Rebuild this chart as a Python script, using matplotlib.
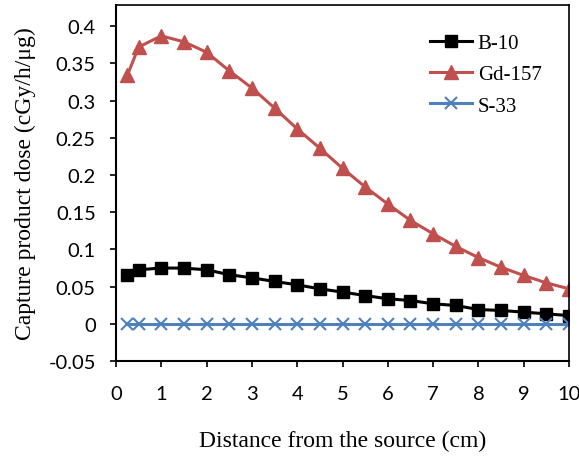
import matplotlib
matplotlib.use("Agg")
import matplotlib.pyplot as plt

x = [0.25, 0.5, 1, 1.5, 2, 2.5, 3, 3.5, 4, 4.5, 5, 5.5, 6, 6.5, 7, 7.5, 8, 8.5, 9, 9.5, 10]
b10 = [0.065, 0.0726, 0.075, 0.0748, 0.0726, 0.066, 0.0618, 0.0569, 0.0524, 0.047, 0.0426,
       0.038, 0.0336, 0.0313, 0.0269, 0.0246, 0.0192, 0.0179, 0.0157, 0.0134, 0.011]
gd157 = [0.334, 0.372, 0.387, 0.379, 0.365, 0.340, 0.317, 0.290, 0.262, 0.236, 0.209,
         0.184, 0.161, 0.139, 0.121, 0.104, 0.089, 0.076, 0.065, 0.055, 0.047]
s33 = [0.0] * len(x)
xticks = list(range(0, 11))
yticks = [-0.05, 0, 0.05, 0.1, 0.15, 0.2, 0.25, 0.3, 0.35, 0.4]
ytick_labels = ["-0.05", "0", "0.05", "0.1", "0.15", "0.2", "0.25", "0.3", "0.35", "0.4"]

fig = plt.figure(figsize=(5.79, 4.60), dpi=100)
ax = fig.add_axes([116/579, 98/460, (569-116)/579, (362-6)/460])

ax.plot(x, b10, color="black", lw=2.2, marker="s", ms=9, label="B-10")
ax.plot(x, gd157, color="#C0504D", lw=2.2, marker="^", ms=9.5, label="Gd-157")
ax.plot(x, s33, color="#4F81BD", lw=2.2, marker="x", ms=8.5, mew=1.5, label="S-33")

ax.set_xlim(0, 10)
ax.set_ylim(-0.05, -0.05 + (362-6)/37.2*0.05)
ax.set_xticks(xticks)
ax.set_xticklabels([str(t) for t in xticks], fontfamily="Lato", fontsize=14.5)
ax.set_yticks(yticks)
ax.set_yticklabels(ytick_labels, fontfamily="Lato", fontsize=14.5)
ax.tick_params(direction="out", length=4.5, width=1.2, color="black")
ax.tick_params(axis="y", pad=10)
ax.tick_params(axis="x", pad=13)
for s in ax.spines.values():
    s.set_color("black")
    s.set_linewidth(1.2)
ax.spines["left"].set_linewidth(1.5)
ax.spines["bottom"].set_linewidth(1.5)

ax.set_xlabel("Distance from the source (cm)", fontfamily="Liberation Serif", fontsize=17, labelpad=20)
ax.set_ylabel("Capture product dose (cGy/h/\u03bcg)", fontfamily="Liberation Serif", fontsize=17, labelpad=9)

leg = ax.legend(loc="upper left", bbox_to_anchor=(0.693, 0.92), frameon=False,
                prop={"family": "Liberation Serif", "size": 15}, handlelength=2.0,
                handletextpad=0.3, labelspacing=0.56, borderaxespad=0, borderpad=0)

fig.savefig("out.png", dpi=100)
